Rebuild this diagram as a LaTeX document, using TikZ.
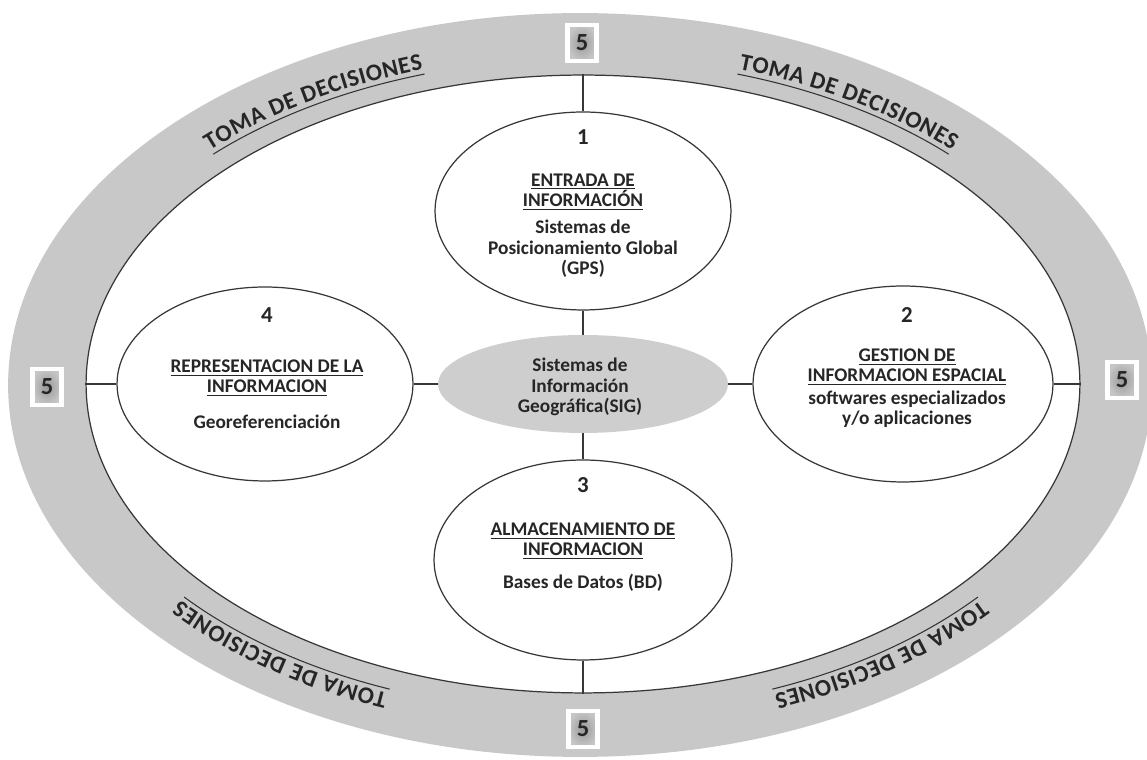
\documentclass[tikz,border=0pt]{standalone}
\usepackage{fontspec}
\setmainfont{Carlito}
\usetikzlibrary{shapes.geometric,decorations.text}
\definecolor{ring}{RGB}{200,200,200}
\definecolor{hub}{RGB}{206,206,206}
\definecolor{edge}{RGB}{55,55,55}
\begin{document}
\begin{tikzpicture}[x=0.02cm,y=0.02cm,
  oval/.style={ellipse, draw=edge, line width=0.7pt, fill=white, inner sep=0pt},
  lbl/.style={font=\fontsize{11}{11.6}\selectfont\bfseries, align=center, inner sep=0pt, text=black!85},
  num/.style={font=\fontsize{13}{13}\selectfont\bfseries, inner sep=0pt, text=black!85},
  five/.style={draw=white, line width=2.3pt, inner color=gray!80, outer color=gray!45, minimum width=0.58cm, minimum height=0.72cm, inner sep=0pt, font=\fontsize{14}{14}\selectfont\bfseries, text=black!85},
  link/.style={draw=edge, line width=0.7pt},
  tomadec/.style={decoration={text along path, text align={fit to path}, text={|\fontsize{13.6}{14}\selectfont\bfseries\color{black!85}|TOMA DE DECISIONES}}, decorate},
  uline/.style={draw=black!80, line width=0.6pt}
]
\useasboundingbox (0,0) rectangle (1147,760);
% ring
\node[ellipse, fill=ring, minimum width=22.88cm, minimum height=14.88cm, inner sep=0pt] (outer) at (580,375) {};
\node[oval, minimum width=19.88cm, minimum height=12.36cm] (inner) at (583,376) {};
% curved labels
\path[tomadec, shift={(581,376)}] (135:525 and 330) arc[start angle=135, end angle=107.5, x radius=525, y radius=330];
\draw[uline, shift={(581,376)}] (135:520 and 325) arc[start angle=135, end angle=107.5, x radius=520, y radius=325];
\path[tomadec, shift={(581,376)}] (72.5:525 and 330) arc[start angle=72.5, end angle=45, x radius=525, y radius=330];
\draw[uline, shift={(581,376)}] (72.5:520 and 325) arc[start angle=72.5, end angle=45, x radius=520, y radius=325];
\path[tomadec, shift={(581,376)}] (248.5:527 and 333) arc[start angle=248.5, end angle=220.5, x radius=527, y radius=333];
\draw[uline, shift={(581,376)}] (248.5:522 and 328) arc[start angle=248.5, end angle=220.5, x radius=522, y radius=328];
\path[tomadec, shift={(581,376)}] (319.5:527 and 333) arc[start angle=319.5, end angle=291.5, x radius=527, y radius=333];
\draw[uline, shift={(581,376)}] (319.5:522 and 328) arc[start angle=319.5, end angle=291.5, x radius=522, y radius=328];
% five boxes
\node[five] (f1) at (582,717) {5};
\node[five] (f2) at (1122,380) {5};
\node[five] (f3) at (583,31) {5};
\node[five] (f4) at (47,373) {5};
% ellipses
\node[oval, minimum width=5.92cm, minimum height=3.96cm] (e1) at (583,549) {};
\node[ellipse, fill=hub, minimum width=5.8cm, minimum height=1.96cm, inner sep=0pt] (sig) at (583,376) {};
\node[oval, minimum width=5.96cm, minimum height=4.0cm] (e3) at (583,200) {};
\node[oval, minimum width=5.92cm, minimum height=3.88cm] (e4) at (265,376) {};
\node[oval, minimum width=6.0cm, minimum height=3.92cm] (e2) at (903,376) {};
% connectors
\draw[link] (inner.north) -- (e1.north);
\draw[link] (e1.south) -- (sig.north);
\draw[link] (sig.south) -- (e3.north);
\draw[link] (e3.south) -- (inner.south);
\draw[link] (inner.west) -- (e4.west);
\draw[link] (e4.east) -- (sig.west);
\draw[link] (sig.east) -- (e2.west);
\draw[link] (e2.east) -- (inner.east);
% texts
\node[num] (n1) at (583,623) {1};
\node[lbl] (t1) at (583,568) {\underline{ENTRADA DE}\\\underline{INFORMACIÓN}};
\node[lbl] (b1) at (583,511) {Sistemas de\\Posicionamiento Global\\(GPS)};
\node[num] (n2) at (907,445) {2};
\node[lbl] (t2) at (907,393) {\underline{GESTION DE}\\\underline{INFORMACION ESPACIAL}};
\node[lbl] (b2) at (907,351) {softwares especializados\\y/o aplicaciones};
\node[num] (n3) at (583,275) {3};
\node[lbl] (t3) at (583,219) {\underline{ALMACENAMIENTO DE}\\\underline{INFORMACION}};
\node[lbl] (b3) at (583,177) {Bases de Datos (BD)};
\node[num] (n4) at (267,445) {4};
\node[lbl] (t4) at (267,382) {\underline{REPRESENTACION DE LA}\\\underline{INFORMACION}};
\node[lbl] (b4) at (267,338) {Georeferenciación};
\node[lbl] (ts) at (580,373) {Sistemas de\\Información\\Geográfica(SIG)};
\end{tikzpicture}
\end{document}
